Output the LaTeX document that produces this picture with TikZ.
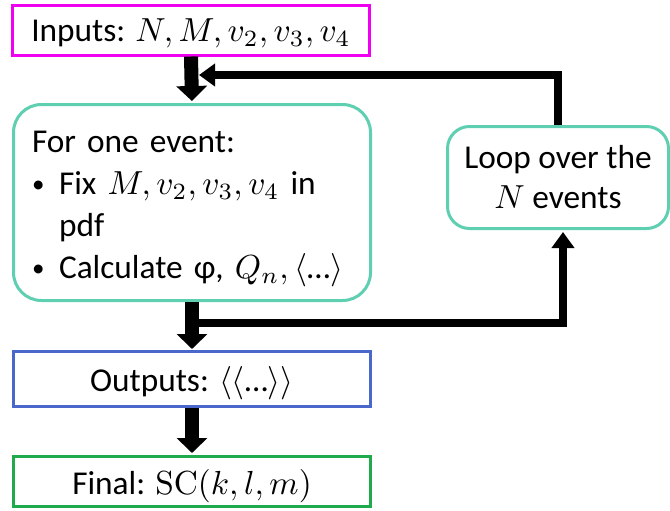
\documentclass[tikz,border=0pt]{standalone}
\usepackage{fontspec}
\setmainfont{Carlito}
\newfontfamily\lmr{Latin Modern Roman}
\usetikzlibrary{arrows.meta}
\definecolor{cmag}{HTML}{F000F0}
\definecolor{cteal}{HTML}{5FCFB2}
\definecolor{cblue}{HTML}{4A68CC}
\definecolor{cgreen}{HTML}{1FAA4C}
\newcommand{\bul}{\makebox[8.1pt][l]{\raisebox{0.4pt}{\fontsize{7.5}{8}\selectfont •}}}
\begin{document}
\begin{tikzpicture}[x=0.3pt,y=-0.3pt,
  box/.style={draw, line width=0.9pt, minimum width=107.1pt, inner sep=0pt,
    text depth=0pt, font=\fontsize{10}{12.6}\selectfont},
  bigarrow/.style={line width=4.2pt, -{Triangle[width=9pt,length=4.5pt]}},
  loopline/.style={line width=2.4pt, -{Triangle[width=6.6pt,length=4.8pt]}},
]
\useasboundingbox (0,0) rectangle (670,510);
\node[box, draw=cmag, minimum height=15pt] (inputs) at (191,30)
  {Inputs: $N, M, v_2, v_3, v_4$};
\node[box, draw=cteal, rounded corners=8.4pt, minimum height=58.8pt,
  text width=105pt, align=left, text depth=] (event) at (192,202.5)
  {\hspace*{4.5pt}\rule{0pt}{10pt}For one event:\\
   \hspace*{4.5pt}\bul Fix $M, v_2, v_3, v_4$ in\\
   \hspace*{12.6pt}pdf\\
   \hspace*{4.5pt}\bul Calculate φ, $Q_n, \langle$…$\rangle$};
\node[box, draw=cteal, rounded corners=6.6pt, minimum width=66.3pt,
  minimum height=30.6pt, align=center, text depth=, font=\fontsize{10}{12}\selectfont]
  (loop) at (558,177.5) {Loop over the\\ $N$ events};
\node[box, draw=cblue, minimum height=16.5pt] (outputs) at (192,379)
  {Outputs: $\langle\langle$…$\rangle\rangle$};
\node[box, draw=cgreen, minimum height=15pt] (final) at (192,481.5)
  {Final: {\lmr SC}$(k, l, m)$};
\coordinate (j1) at (199,75);
\coordinate (j2) at (192,323);
\draw[bigarrow, shorten >=0.6pt] (inputs.south) -- (event.north);
\draw[bigarrow, shorten >=0.3pt] (event.south) -- (outputs.north);
\draw[bigarrow, shorten >=0.6pt] (outputs.south) -- (final.north);
\draw[loopline] (loop.north) |- (j1);
\draw[loopline, shorten >=0.6pt] (j2) -| ([xshift=1.5pt]loop.south);
\end{tikzpicture}
\end{document}
